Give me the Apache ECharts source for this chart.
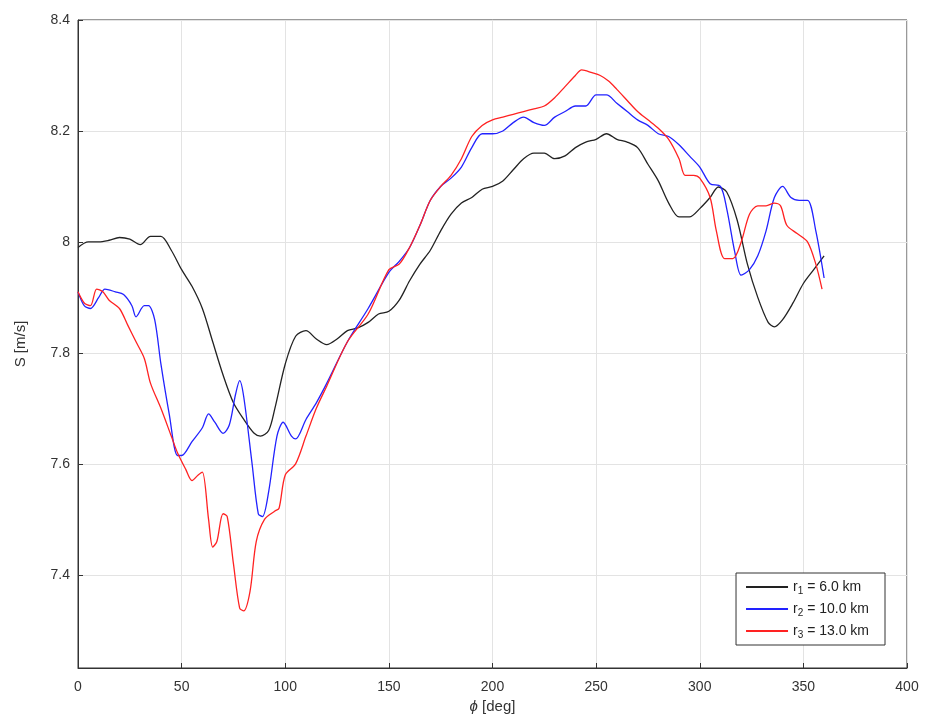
<!DOCTYPE html>
<html>
<head>
<meta charset="utf-8">
<script src="https://cdn.jsdelivr.net/npm/echarts@6/dist/echarts.min.js"></script>
<style>html,body{margin:0;padding:0;background:#fff}#graph{width:925px;height:728px}</style>
</head>
<body>
<div id="graph"></div>
<script>
var seriesNames = ['r1 = 6.0 km', 'r2 = 10.0 km', 'r3 = 13.0 km'];
var yTicks = [7.4, 7.6, 7.8, 8.0, 8.2, 8.4];
var black = [[0,7.99],[5,8.0],[10,8.0],[15,8.003],[20,8.008],[25,8.005],[30,7.995],[35,8.01],[40,8.01],[45,7.985],[50,7.95],[55,7.92],[60,7.88],[65,7.82],[70,7.76],[75,7.71],[80,7.68],[85,7.655],[88,7.65],[92,7.66],[95,7.7],[100,7.78],[105,7.83],[110,7.84],[115,7.825],[120,7.815],[125,7.825],[130,7.84],[135,7.845],[140,7.855],[145,7.87],[150,7.875],[155,7.895],[160,7.93],[165,7.96],[170,7.985],[175,8.02],[180,8.05],[185,8.07],[190,8.08],[195,8.095],[200,8.1],[205,8.11],[210,8.13],[215,8.15],[220,8.16],[225,8.16],[230,8.15],[235,8.155],[240,8.17],[245,8.18],[250,8.185],[255,8.195],[260,8.185],[265,8.18],[270,8.17],[275,8.14],[280,8.11],[285,8.07],[290,8.045],[295,8.045],[300,8.06],[305,8.08],[309,8.099],[313,8.09],[318,8.04],[323,7.96],[328,7.9],[333,7.855],[336,7.847],[340,7.86],[345,7.89],[350,7.925],[355,7.95],[360,7.975]];
var blue = [[0,7.91],[3,7.885],[6,7.88],[10,7.9],[13,7.915],[18,7.91],[22,7.905],[26,7.885],[28,7.865],[32,7.885],[34,7.885],[37,7.86],[40,7.78],[44,7.69],[48,7.615],[50,7.615],[55,7.64],[60,7.665],[63,7.69],[66,7.675],[70,7.655],[73,7.67],[76,7.725],[78,7.75],[80,7.72],[84,7.6],[87,7.51],[89,7.505],[92,7.55],[96,7.65],[99,7.675],[103,7.65],[105,7.645],[110,7.68],[115,7.71],[120,7.745],[130,7.82],[140,7.88],[150,7.945],[155,7.965],[160,7.99],[165,8.03],[170,8.075],[175,8.1],[180,8.115],[185,8.135],[190,8.17],[195,8.195],[200,8.195],[205,8.2],[210,8.215],[215,8.225],[220,8.215],[225,8.21],[230,8.225],[235,8.235],[240,8.245],[245,8.245],[250,8.265],[255,8.265],[260,8.25],[265,8.235],[270,8.22],[275,8.21],[280,8.195],[285,8.19],[290,8.175],[295,8.155],[300,8.135],[305,8.105],[310,8.1],[313,8.06],[317,7.98],[320,7.94],[324,7.95],[328,7.975],[332,8.02],[336,8.08],[340,8.1],[344,8.08],[348,8.075],[352,8.075],[356,8.02],[360,7.935]];
var red = [[0,7.91],[3,7.89],[6,7.885],[9,7.915],[12,7.91],[15,7.895],[20,7.88],[24,7.85],[28,7.82],[32,7.79],[35,7.745],[40,7.7],[45,7.65],[48,7.62],[52,7.59],[55,7.57],[58,7.58],[60,7.585],[63,7.5],[65,7.45],[67,7.46],[70,7.51],[72,7.505],[75,7.42],[78,7.34],[80,7.335],[83,7.37],[86,7.46],[90,7.5],[95,7.515],[97,7.52],[100,7.58],[105,7.6],[110,7.65],[115,7.7],[120,7.74],[130,7.82],[140,7.87],[150,7.95],[155,7.96],[160,7.99],[165,8.03],[170,8.075],[175,8.1],[180,8.12],[185,8.15],[190,8.19],[195,8.21],[200,8.22],[205,8.225],[210,8.23],[215,8.235],[220,8.24],[225,8.245],[230,8.26],[235,8.28],[240,8.3],[243,8.31],[248,8.305],[252,8.3],[256,8.29],[260,8.275],[265,8.255],[270,8.235],[275,8.22],[280,8.205],[285,8.185],[290,8.15],[293,8.12],[297,8.12],[300,8.115],[305,8.08],[308,8.02],[312,7.97],[316,7.97],[320,8.0],[324,8.05],[328,8.065],[332,8.065],[336,8.07],[339,8.065],[342,8.03],[347,8.015],[352,8.0],[356,7.96],[359,7.915]];
var colors = ['#222222', '#2222ff', '#ff2222'];

var myChart = echarts.init(document.getElementById('graph'));
function mkSeries(i, data) {
    return {
        name: seriesNames[i], type: 'line', data: data, smooth: 0.3,
        showSymbol: false, symbol: 'none',
        lineStyle: { color: colors[i], width: 1.3 }, itemStyle: { color: colors[i] }
    };
}
var option = {
    animation: false,
    grid: { left: 78, right: 18, top: 20, bottom: 60, show: true, borderColor: '#333', borderWidth: 1 },
    xAxis: {
        type: 'value', min: 0, max: 400, interval: 50,
        name: '{i|ϕ} [deg]', nameLocation: 'middle', nameGap: 28,
        nameTextStyle: { color: '#333', fontSize: 15, rich: { i: { fontStyle: 'italic', fontSize: 15, color: '#333' } } },
        axisLine: { show: true, onZero: false, lineStyle: { color: '#333' } },
        axisTick: { show: true, inside: true, lineStyle: { color: '#333' } },
        axisLabel: { color: '#333', fontSize: 14, margin: 12 },
        splitLine: { show: true, lineStyle: { color: '#e3e3e3' } }
    },
    yAxis: {
        type: 'value', min: 7.232, max: 8.4,
        name: 'S [m/s]', nameLocation: 'middle', nameGap: 50,
        nameTextStyle: { color: '#333', fontSize: 15 },
        axisLine: { show: true, onZero: false, lineStyle: { color: '#333' } },
        axisTick: { show: true, inside: true, customValues: yTicks, lineStyle: { color: '#333' } },
        axisLabel: { color: '#333', fontSize: 14, customValues: yTicks,
            formatter: function (v) { return Math.abs(v - 8) < 1e-6 ? '8' : v.toFixed(1); } },
        splitLine: { show: true, lineStyle: { color: '#e3e3e3' } }
    },
    legend: {
        orient: 'vertical', right: 40, bottom: 83, itemGap: 6,
        backgroundColor: '#fff', borderColor: '#333', borderWidth: 1, borderRadius: 0,
        padding: [7, 16, 5, 10], itemWidth: 42, itemHeight: 2, icon: 'rect',
        data: seriesNames,
        formatter: function (n) {
            var p = n.split(' ');
            return '{a|r}{s|' + p[0].substring(1) + '}{a| = ' + p[2] + ' km}';
        },
        textStyle: { color: '#222', rich: { a: { fontSize: 14, color: '#222' }, s: { fontSize: 10, color: '#222', verticalAlign: 'bottom', padding: [8, 0, 0, 0] } } }
    },
    series: [mkSeries(0, black), mkSeries(1, blue), mkSeries(2, red)]
};
myChart.setOption(option, true);
</script>
</body>
</html>
